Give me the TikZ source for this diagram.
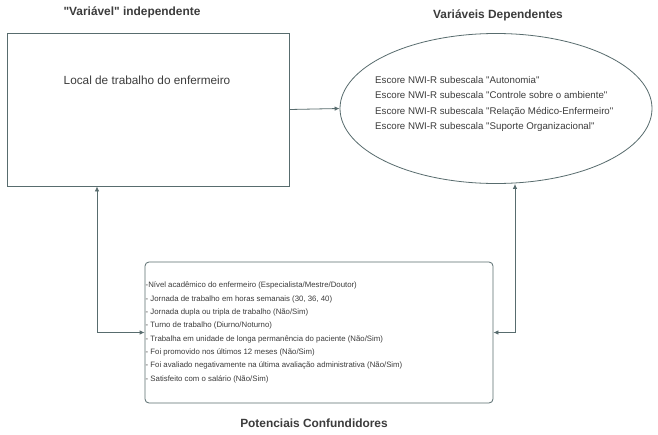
\documentclass[tikz,border=0pt]{standalone}
\usepackage{fontspec}
\setmainfont[Ligatures=TeXOff]{Liberation Sans}
\usetikzlibrary{arrows.meta,shapes.geometric}
\definecolor{linec}{RGB}{88,108,110}
\definecolor{txtc}{RGB}{60,60,60}
\begin{document}
\begin{tikzpicture}[x=1pt,y=-1pt,
  conn/.style={draw=linec,line width=0.8pt,arrows={-{Latex[length=5pt,width=4.5pt]}}},
  title/.style={font=\bfseries\fontsize{11.9}{13}\selectfont,text=txtc,inner sep=0pt},
  body/.style={text=txtc,inner sep=0pt,align=left}]
\useasboundingbox (0,0) rectangle (658,434);
\fill[white] (0,0) rectangle (658,434);
% titles
\node[title] (t1) at (132,12) {"Variável" independente};
\node[title] (t2) at (498,15) {Variáveis Dependentes};
\node[title] (t3) at (314,423) {Potenciais Confundidores};
% independent box
\node[draw=linec,line width=0.8pt,minimum width=282pt,minimum height=153pt,inner sep=0pt] (ind) at (148,109.5) {};
\node[body,font=\fontsize{11.8}{13}\selectfont] (indt) at (147,80) {Local de trabalho do enfermeiro};
% dependent ellipse
\node[ellipse,draw=linec,line width=0.8pt,minimum width=312pt,minimum height=150pt,inner sep=0pt] (dep) at (496,108.5) {};
\node[body,anchor=west,font=\fontsize{9.7}{15.5}\selectfont] (dept) at (375,104) {Escore NWI-R subescala "Autonomia"\\
Escore NWI-R subescala "Controle sobre o ambiente"\\
Escore NWI-R subescala "Relação Médico-Enfermeiro"\\
Escore NWI-R subescala "Suporte Organizacional"};
% confounders box
\node[draw=linec,line width=0.8pt,rounded corners=4pt,minimum width=348pt,minimum height=141pt,inner sep=0pt] (conf) at (319,332.5) {};
\node[body,anchor=north west,font=\fontsize{7.8}{13.3}\selectfont] (conft) at (145.5,282) {-Nível acadêmico do enfermeiro (Especialista/Mestre/Doutor)\\
- Jornada de trabalho em horas semanais (30, 36, 40)\\
- Jornada dupla ou tripla de trabalho (Não/Sim)\\
- Turno de trabalho (Diurno/Noturno)\\
- Trabalha em unidade de longa permanência do paciente (Não/Sim)\\
- Foi promovido nos últimos 12 meses (Não/Sim)\\
- Foi avaliado negativamente na última avaliação administrativa (Não/Sim)\\
- Satisfeito com o salário (Não/Sim)};
% connectors
\coordinate (lc) at (97,332.5);
\coordinate (rc) at (515,332.5);
\draw[conn] (ind.east) -- (dep.west);
\draw[conn,arrows={{Latex[length=5pt,width=4.5pt]}-{Latex[length=5pt,width=4.5pt]}}] (conf.west) -- (lc) -- (lc |- ind.south);
\draw[conn,arrows={{Latex[length=5pt,width=4.5pt]}-{Latex[length=5pt,width=4.5pt]}}] (conf.east) -- (rc) -- (rc |- dep.south);
\end{tikzpicture}
\end{document}
